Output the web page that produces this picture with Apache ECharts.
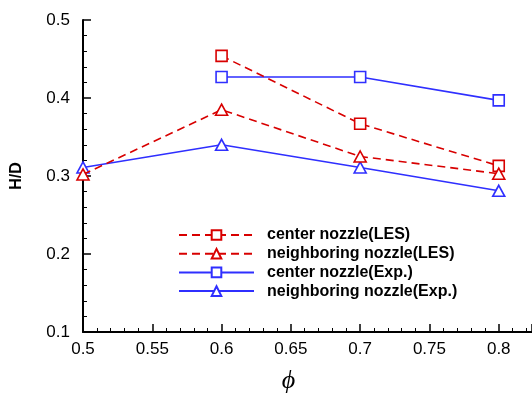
<!DOCTYPE html>
<html>
<head>
<meta charset="utf-8">
<script src="https://cdn.jsdelivr.net/npm/echarts@6/dist/echarts.min.js"></script>
<style>
  html, body { margin: 0; padding: 0; background: #fff; }
  #chart { width: 532px; height: 394px; }
</style>
</head>
<body>
<div id="chart"></div>
<script>
// phi values and H/D per series
const phi = [0.5, 0.6, 0.7, 0.8];
const centerLES = [null, 0.454, 0.367, 0.313];
const neighborLES = [0.302, 0.385, 0.325, 0.303];
const centerExp = [null, 0.427, 0.427, 0.397];
const neighborExp = [0.311, 0.340, 0.311, 0.281];

const seriesNames = [
  "center nozzle(LES)",
  "neighboring nozzle(LES)",
  "center nozzle(Exp.)",
  "neighboring nozzle(Exp.)",
];

const RED = "#d80000";
const BLUE = "#2f2fff";

const pairs = (ys) => phi.map((x, i) => [x, ys[i]]).filter((p) => p[1] != null);

const makeSeries = (name, ys, color, dashed, symbol) => ({
  name,
  type: "line",
  data: pairs(ys),
  symbol: symbol,
  symbolSize: symbol === "rect" ? 11 : [12, 11],
  itemStyle: { color: "#fff", borderColor: color, borderWidth: 1.6 },
  lineStyle: { color, width: 1.6, type: dashed ? [8, 5] : "solid" },
  emphasis: { disabled: true },
  z: dashed ? 3 : 2,
});

const chart = echarts.init(document.getElementById("chart"));

chart.setOption({
  animation: false,
  textStyle: { fontFamily: "Liberation Sans, Arial, sans-serif" },
  grid: { left: 83, right: 0, top: 20, bottom: 62, outerBoundsMode: "none" },
  legend: {
    left: 178,
    top: 227,
    padding: 0,
    orient: "vertical",
    itemWidth: 75,
    itemHeight: 12,
    itemGap: 2.7,
    selectedMode: false,
    data: seriesNames,
    textStyle: {
      fontSize: 16,
      fontWeight: "bold",
      color: "#000",
      padding: [0, 0, 0, 8],
    },
  },
  xAxis: {
    type: "value",
    min: 0.5,
    max: 0.824,
    interval: 0.05,
    name: "ϕ",
    nameLocation: "middle",
    nameGap: 36,
    nameTextStyle: {
      fontFamily: "Liberation Serif, serif",
      fontStyle: "italic",
      fontSize: 26,
      color: "#000",
      padding: [0, 38, 0, 0],
    },
    axisLine: { lineStyle: { color: "#000", width: 2 } },
    axisTick: { inside: true, length: 8, lineStyle: { color: "#000", width: 1.5 } },
    minorTick: { show: true, splitNumber: 5, length: 4, lineStyle: { color: "#000", width: 1 } },
    axisLabel: {
      showMaxLabel: false,
      fontSize: 17,
      color: "#000",
      margin: 9,
    },
    splitLine: { show: false },
  },
  yAxis: {
    type: "value",
    min: 0.1,
    max: 0.5,
    interval: 0.1,
    name: "H/D",
    nameLocation: "middle",
    nameGap: 58,
    nameTextStyle: { fontSize: 16, fontWeight: "bold", color: "#000" },
    axisLine: { show: true, lineStyle: { color: "#000", width: 2 } },
    axisTick: { show: true, inside: true, length: 8, lineStyle: { color: "#000", width: 1.5 } },
    minorTick: { show: true, splitNumber: 5, length: 4, lineStyle: { color: "#000", width: 1 } },
    axisLabel: {
      fontSize: 17,
      color: "#000",
      margin: 13,
      formatter: (v) => v.toFixed(1),
    },
    splitLine: { show: false },
  },
  series: [
    makeSeries(seriesNames[0], centerLES, RED, true, "rect"),
    makeSeries(seriesNames[1], neighborLES, RED, true, "triangle"),
    makeSeries(seriesNames[2], centerExp, BLUE, false, "rect"),
    makeSeries(seriesNames[3], neighborExp, BLUE, false, "triangle"),
  ],
});
</script>
</body>
</html>
